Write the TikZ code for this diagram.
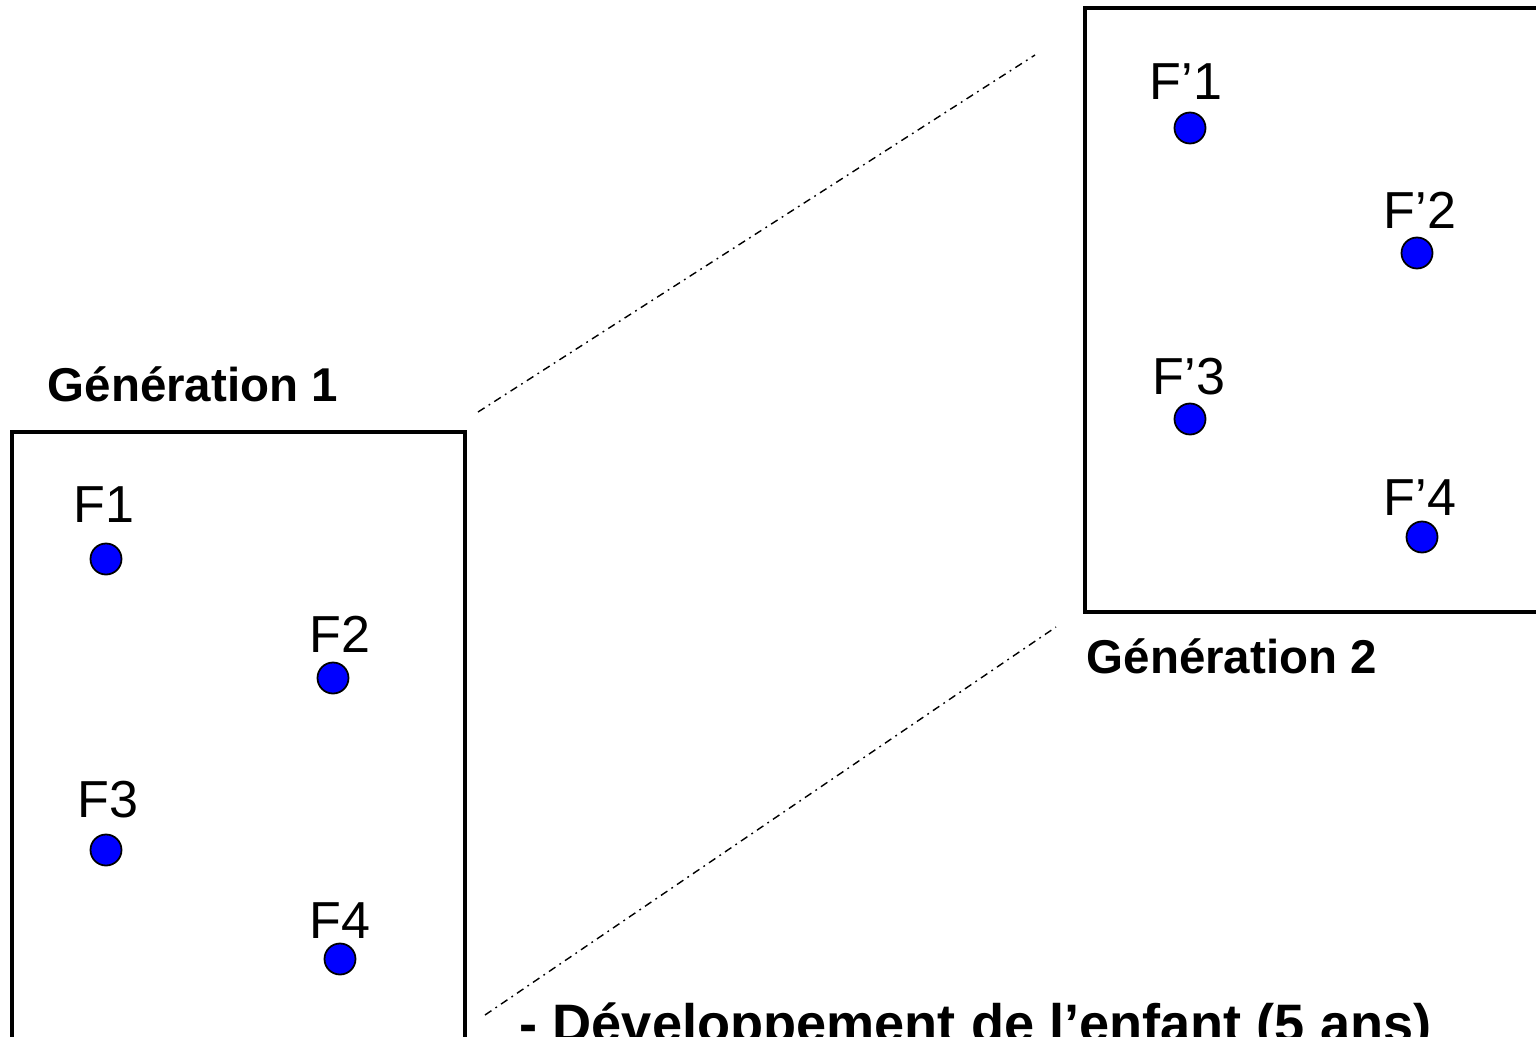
\documentclass[tikz,border=0pt]{standalone}
\usepackage{fontspec}
\setmainfont{Liberation Sans}
\begin{document}
\begin{tikzpicture}[x=0.01cm,y=-0.01cm,
  dot/.style={circle,draw=black,line width=0.5pt,fill={rgb,255:red,0;green,0;blue,255},minimum size=0.31cm,inner sep=0pt},
  flabel/.style={anchor=base,inner sep=0pt,font=\fontsize{14.8pt}{16pt}\selectfont},
  genlabel/.style={anchor=base west,inner sep=0pt,font=\fontsize{13.5pt}{15pt}\selectfont\bfseries},
  frame/.style={draw=black,line width=1.15pt},
  zoomline/.style={draw=black,line width=0.4pt,dash pattern=on 2.2pt off 1.4pt on 0.5pt off 1.4pt}]
\useasboundingbox (0,0) rectangle (1536,1036);
\clip (0,0) rectangle (1536,1036);
% frames
\draw[frame] (12,432) rectangle (465,1100);
\draw[frame] (1085,8) rectangle (1600,612);
% labels
\node[genlabel] (g1) at (47,401) {Génération 1};
\node[genlabel] (g2) at (1086,673) {Génération 2};
\node[anchor=base west,inner sep=0pt,font=\fontsize{15.4pt}{17pt}\selectfont\bfseries] (dev) at (519,1042) {- Développement de l’enfant (5 ans)};
% generation 1 points
\node[flabel] (l1) at (104,522) {F1};
\node[dot] (f1) at (106,559) {};
\node[flabel] (l2) at (340,652) {F2};
\node[dot] (f2) at (333,678) {};
\node[flabel] (l3) at (108,817) {F3};
\node[dot] (f3) at (106,850) {};
\node[flabel] (l4) at (340,938) {F4};
\node[dot] (f4) at (340,959) {};
% generation 2 points
\node[flabel] (m1) at (1186,99) {F’1};
\node[dot] (g1a) at (1190,128) {};
\node[flabel] (m2) at (1420,228) {F’2};
\node[dot] (g2a) at (1417,253) {};
\node[flabel] (m3) at (1189,394) {F’3};
\node[dot] (g3a) at (1190,419) {};
\node[flabel] (m4) at (1420,515) {F’4};
\node[dot] (g4a) at (1422,537) {};
% zoom lines
\coordinate (a1) at (478,412);
\coordinate (a2) at (1035,55);
\coordinate (b1) at (485,1015);
\coordinate (b2) at (1056,627);
\draw[zoomline] (a1) -- (a2);
\draw[zoomline] (b1) -- (b2);
\end{tikzpicture}
\end{document}
